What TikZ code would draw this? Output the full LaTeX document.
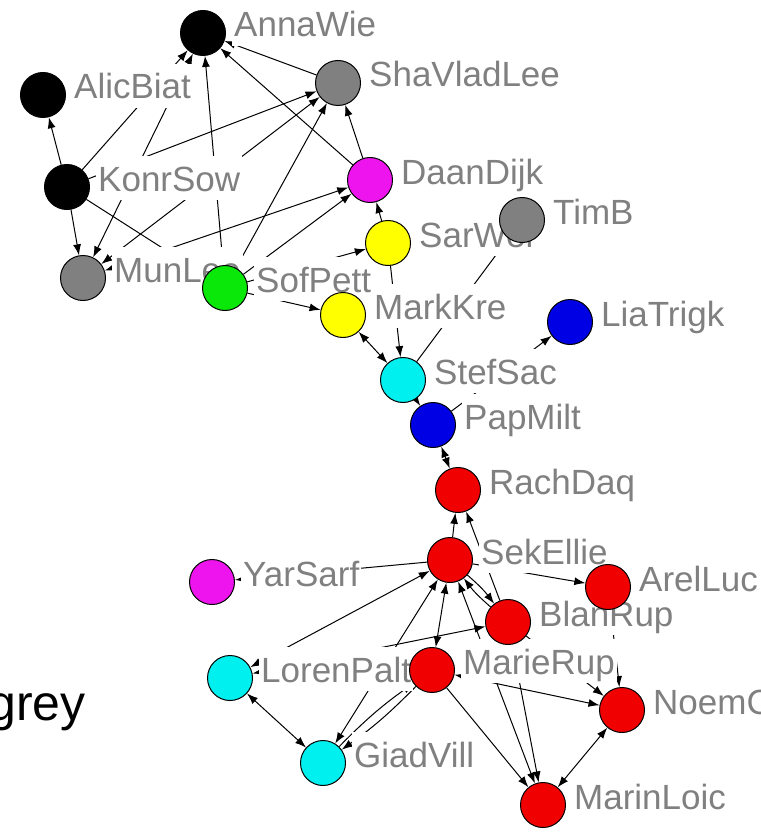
\documentclass[tikz,border=0pt]{standalone}
\usepackage{fontspec}
\setmainfont{Liberation Sans}
\usetikzlibrary{arrows.meta}
\pgfdeclarelayer{bglayer}
\pgfdeclarelayer{edgelayer}
\pgfdeclarelayer{labellayer}
\pgfsetlayers{bglayer,edgelayer,labellayer,main}
\definecolor{lblgray}{RGB}{128,128,128}
\definecolor{ngray}{RGB}{128,128,128}
\definecolor{nmag}{RGB}{238,20,238}
\definecolor{ngreen}{RGB}{10,232,10}
\definecolor{nyellow}{RGB}{255,255,0}
\definecolor{ncyan}{RGB}{0,240,240}
\definecolor{nblue}{RGB}{0,0,228}
\definecolor{nred}{RGB}{240,0,0}
\newcommand{\pjv}[4]{%
  \node[vtx,fill=#4] (#1) at (#2,#3) {};
  \begin{pgfonlayer}{labellayer}
    \node[lbl] (l#1) at ([shift={(29,4)}]#1.center) {#1};
  \end{pgfonlayer}}
\begin{document}
\begin{tikzpicture}[x=1pt,y=-1pt,
  vtx/.style={circle,draw=black,line width=1pt,minimum size=45pt,inner sep=0pt},
  lbl/.style={anchor=base west,fill=white,text=lblgray,font=\fontsize{35}{40}\selectfont,
              inner xsep=2pt,inner ysep=3pt,text height=32pt,text depth=6pt},
  ed/.style={line width=1pt,draw=black},
  ar/.style={ed,-{Latex[length=11pt,width=8pt]}},
  bi/.style={ed,{Latex[length=11pt,width=8pt]}-{Latex[length=11pt,width=8pt]}}]
\begin{pgfonlayer}{bglayer}
\fill[white] (0,0) rectangle (760,837);
\end{pgfonlayer}
\useasboundingbox (0,0) rectangle (760,837);

\pjv{AnnaWie}{203}{33}{black}
\pjv{AlicBiat}{43}{95}{black}
\pjv{ShaVladLee}{338}{83}{ngray}
\pjv{KonrSow}{67}{187}{black}
\pjv{MunLee}{83}{278}{ngray}
\pjv{SofPett}{225}{288}{ngreen}
\pjv{DaanDijk}{370}{180}{nmag}
\pjv{SarWei}{388}{243}{nyellow}
\pjv{TimB}{522}{220}{ngray}
\pjv{MarkKre}{343}{315}{nyellow}
\pjv{LiaTrigk}{570}{322}{nblue}
\pjv{StefSac}{403}{380}{ncyan}
\pjv{PapMilt}{433}{425}{nblue}
\pjv{RachDaq}{458}{490}{nred}
\pjv{SekEllie}{450}{560}{nred}
\pjv{ArelLuc}{608}{587}{nred}
\pjv{BlanRup}{508}{622}{nred}
\pjv{YarSarf}{212}{582}{nmag}
\pjv{LorenPalt}{230}{678}{ncyan}
\pjv{MarieRup}{432}{670}{nred}
\pjv{GiadVill}{323}{763}{ncyan}
\pjv{NoemC}{622}{710}{nred}
\pjv{MarinLoic}{543}{805}{nred}

\node[anchor=base east,font=\fontsize{50}{55}\selectfont,text=black,inner sep=0pt] (grey) at (86,720) {grey};

\begin{pgfonlayer}{edgelayer}
\draw[ar] (KonrSow) -- (AlicBiat);
\draw[ar] (KonrSow) -- (MunLee);
\draw[ar] (KonrSow) -- (AnnaWie);
\draw[bi] (MunLee) -- (AnnaWie);
\draw[ar] (SofPett) -- (AnnaWie);
\draw[ar] (DaanDijk) -- (AnnaWie);
\draw[ar] (ShaVladLee) -- (AnnaWie);
\draw[ar] (KonrSow) -- (ShaVladLee);
\draw[bi] (MunLee) -- (ShaVladLee);
\draw[ar] (SofPett) -- (ShaVladLee);
\draw[ar] (DaanDijk) -- (ShaVladLee);
\draw[bi] (MunLee) -- (DaanDijk);
\draw[ar] (SofPett) -- (DaanDijk);
\draw[ar] (KonrSow) -- (SofPett);
\draw[ar] (SarWei) -- (DaanDijk);
\draw[ar] (SofPett) -- (MarkKre);
\draw[ar] (SofPett) -- (SarWei);
\draw[ar] (SarWei) -- (StefSac);
\draw[bi] (MarkKre) -- (StefSac);
\draw[ar] (StefSac) -- (TimB);
\draw[ar] (PapMilt) -- (LiaTrigk);
\draw[ar] (StefSac) -- (PapMilt);
\draw[bi] (PapMilt) -- (RachDaq);
\draw[ar] (SekEllie) -- (RachDaq);
\draw[ar] (BlanRup) -- (RachDaq);
\draw[ar] (SekEllie) -- (YarSarf);
\draw[bi] (LorenPalt) -- (SekEllie);
\draw[ar] (SekEllie) -- (ArelLuc);
\draw[ar] (SekEllie) to[bend left=6] (BlanRup);
\draw[ar] (BlanRup) to[bend left=6] (SekEllie);
\draw[bi] (GiadVill) -- (SekEllie);
\draw[bi] (LorenPalt) -- (BlanRup);
\draw[bi] (SekEllie) -- (MarieRup);
\draw[bi] (MarinLoic) -- (SekEllie);
\draw[ar] (BlanRup) -- (MarinLoic);
\draw[ar] (MarieRup) -- (MarinLoic);
\draw[bi] (MarieRup) -- (NoemC);
\draw[ar] (BlanRup) -- (NoemC);
\draw[ar] (ArelLuc) -- (NoemC);
\draw[bi] (MarinLoic) -- (NoemC);
\draw[bi] (LorenPalt) -- (GiadVill);
\draw[ar] (GiadVill) to[bend left=5] (MarieRup);
\draw[ar] (MarieRup) to[bend left=5] (GiadVill);
\end{pgfonlayer}
\end{tikzpicture}
\end{document}
